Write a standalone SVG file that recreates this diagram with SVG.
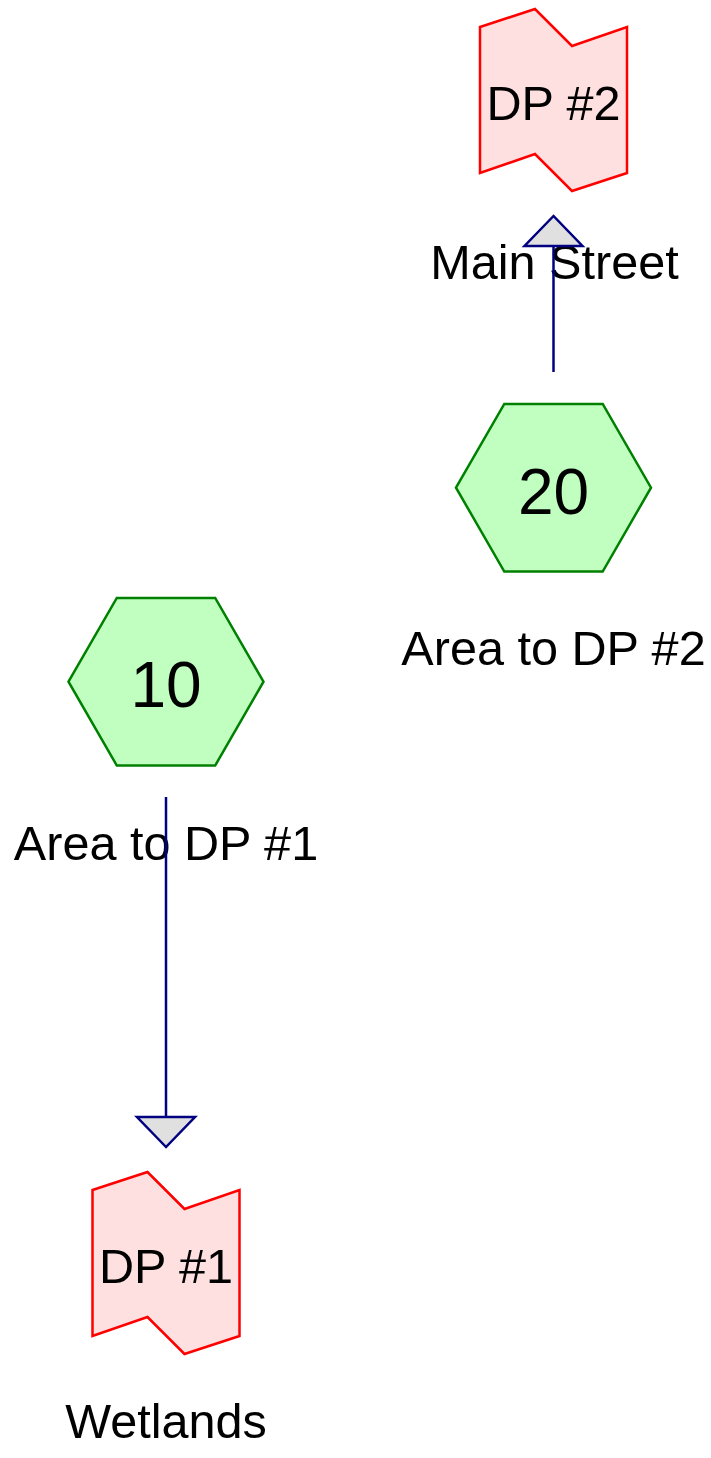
<svg xmlns="http://www.w3.org/2000/svg" width="711" height="1458" viewBox="0 0 711 1458">
<style>
text{font-family:"Liberation Sans",Arial,sans-serif;fill:#000;text-anchor:middle}
.dp{fill:#ffe0e0;stroke:#ff0000;stroke-width:2.5}
.hex{fill:#c0ffc0;stroke:#008000;stroke-width:2.5}
.lbl{font-size:48.6px}
.num{font-size:64px}
.conn{stroke:#000080;stroke-width:2.5;fill:none}
.head{fill:#e0e0e0;stroke:#000080;stroke-width:2.5}
</style>
<rect width="711" height="1458" fill="#fff"/>
<g id="dp2">
<polygon class="dp" points="480,27 535,9 572,46 627,27 627,173 572,191 535,154 480,173"/>
<text class="lbl" x="553.5" y="120">DP #2</text>
<text class="lbl" x="554.5" y="279">Main Street</text>
</g>
<g id="area20">
<polygon class="hex" points="456,487.7 504.3,404 602.7,404 651,487.7 602.7,571.5 504.3,571.5"/>
<text class="num" x="553.5" y="514">20</text>
<text class="lbl" x="553.5" y="665">Area to DP #2</text>
</g>
<g id="area10">
<polygon class="hex" points="68.5,681.7 116.8,598 215.2,598 263.5,681.7 215.2,765.5 116.8,765.5"/>
<text class="num" x="166" y="707">10</text>
<text class="lbl" x="166" y="860">Area to DP #1</text>
</g>
<g id="dp1">
<polygon class="dp" points="92.5,1190 147.5,1172 184.5,1209 239.5,1190 239.5,1336 184.5,1354 147.5,1317 92.5,1336"/>
<text class="lbl" x="166" y="1283">DP #1</text>
<text class="lbl" x="166" y="1438">Wetlands</text>
</g>
<g id="connectors">
<line class="conn" x1="553.5" y1="372" x2="553.5" y2="246"/>
<polygon class="head" points="553.5,216 524.5,246 582.5,246"/>
<line class="conn" x1="166" y1="797" x2="166" y2="1117"/>
<polygon class="head" points="166,1147 137,1117 195,1117"/>
</g>
</svg>
